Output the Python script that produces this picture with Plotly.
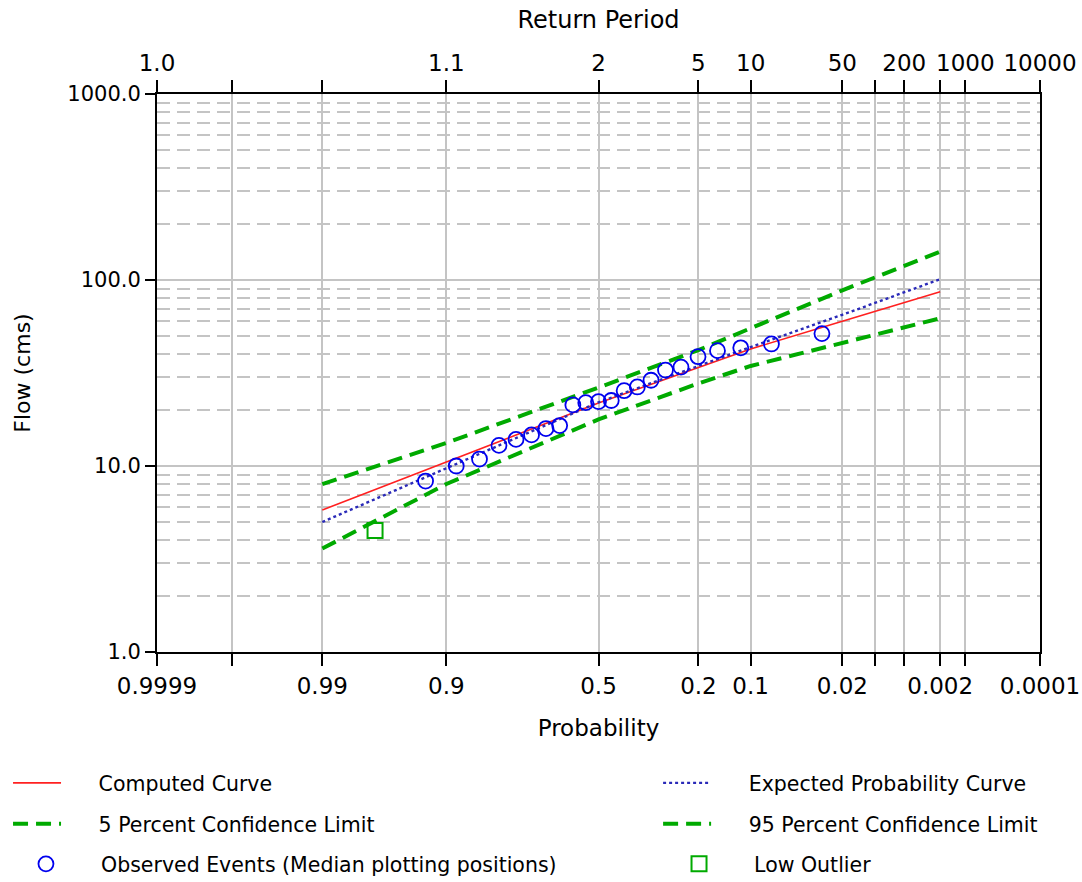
import plotly.graph_objects as go
from statistics import NormalDist

# ---------------- data ----------------
# Exceedance probabilities at which the frequency curves are read
curve_prob = [0.99, 0.9, 0.5, 0.2, 0.1, 0.02, 0.002]
computed_curve = [5.8, 10.5, 21.8, 33.8, 42.6, 60.0, 86.5]
expected_curve = [5.0, 9.7, 22.0, 34.5, 43.6, 65.0, 101.0]
conf_5pct = [8.0, 13.3, 26.4, 42.0, 55.0, 88.0, 142.0]
conf_95pct = [3.6, 8.0, 17.8, 27.8, 34.5, 45.8, 62.2]

# Observed events (median plotting positions, exceedance probability)
obs_prob = [0.0299, 0.0726, 0.1154, 0.1581, 0.2009, 0.2436, 0.2863, 0.3291,
            0.3718, 0.4145, 0.4573, 0.5000, 0.5427, 0.5855, 0.6282, 0.6709,
            0.7137, 0.7564, 0.7991, 0.8419, 0.8846, 0.9274]
obs_flow = [51.5, 45.3, 43.2, 41.7, 38.7, 34.0, 32.8, 28.9, 26.6, 25.4, 22.5,
            22.2, 21.9, 21.3, 16.5, 15.9, 14.7, 13.9, 12.9, 10.9, 10.0, 8.3]

outlier_prob = [0.9701]
outlier_flow = [4.5]

# Axis ticks
prob_ticks = [0.9999, 0.999, 0.99, 0.9, 0.5, 0.2, 0.1, 0.02, 0.01, 0.005, 0.002, 0.001, 0.0001]
prob_labels = ["0.9999", "", "0.99", "0.9", "0.5", "0.2", "0.1", "0.02", "", "", "0.002", "", "0.0001"]
return_labels = ["1.0", "", "", "1.1", "2", "5", "10", "50", "", "200", "", "1000", "10000"]
flow_ticks = [1, 10, 100, 1000]
flow_labels = ["1.0", "10.0", "100.0", "1000.0"]
flow_minor = [m * d for d in (1, 10, 100) for m in range(2, 10)]

# --------------- probability scale ---------------
nd = NormalDist()


def zscale(ps):
    return [nd.inv_cdf(1 - p) for p in ps]


xr = [nd.inv_cdf(0.0001), nd.inv_cdf(0.9999)]

FONT = "DejaVu Sans, Verdana, sans-serif"
GREEN = "#00aa00"
BLUE = "#0000ee"
GRID = "#c4c4c4"
PAD_L = "\u00a0" * 5
PAD_M = "\u00a0" * 4

fig = go.Figure()

fig.add_trace(go.Scatter(
    x=zscale(curve_prob), y=computed_curve, mode="lines", name=PAD_L + "Computed Curve",
    line=dict(color="#ff2020", width=1.6), legend="legend"))
fig.add_trace(go.Scatter(
    x=zscale(curve_prob), y=expected_curve, mode="lines", name=PAD_L + "Expected Probability Curve",
    line=dict(color="#2a2ab8", width=2.4, dash="dot"), legend="legend2"))
fig.add_trace(go.Scatter(
    x=zscale(curve_prob), y=conf_5pct, mode="lines", name=PAD_L + "5 Percent Confidence Limit",
    line=dict(color=GREEN, width=4, dash="15px,8px"), legend="legend3"))
fig.add_trace(go.Scatter(
    x=zscale(curve_prob), y=conf_95pct, mode="lines", name=PAD_L + "95 Percent Confidence Limit",
    line=dict(color=GREEN, width=4, dash="15px,8px"), legend="legend4"))
fig.add_trace(go.Scatter(
    x=zscale(obs_prob), y=obs_flow, mode="markers",
    name=PAD_M + "Observed Events (Median plotting positions)",
    marker=dict(symbol="circle-open", size=15, color=BLUE, line=dict(width=1.8, color=BLUE)),
    legend="legend5"))
fig.add_trace(go.Scatter(
    x=zscale(outlier_prob), y=outlier_flow, mode="markers", name=PAD_M + "Low Outlier",
    marker=dict(symbol="square-open", size=15, color=GREEN, line=dict(width=2, color=GREEN)),
    legend="legend6"))
# invisible companion trace so the top (return period) axis is drawn
fig.add_trace(go.Scatter(
    x=zscale(obs_prob), y=obs_flow, xaxis="x2", mode="markers",
    marker=dict(opacity=0), showlegend=False, hoverinfo="skip"))


def leg(x, y):
    return dict(orientation="v", xanchor="left", yanchor="middle", x=x, y=y,
                font=dict(family=FONT, size=20.5, color="black"),
                bgcolor="rgba(0,0,0,0)", itemwidth=48, borderwidth=0)


col1, col2 = -0.1687, 0.5675
col1m, col2m = -0.1586, 0.581
row1, row2, row3 = -0.2348, -0.3082, -0.380

fig.update_layout(
    width=1082, height=882,
    margin=dict(l=157, r=42, t=94, b=230, autoexpand=False),
    paper_bgcolor="white", plot_bgcolor="white",
    font=dict(family=FONT, size=21, color="black"),
    legend=leg(col1, row1),
    legend2=leg(col2, row1),
    legend3=leg(col1, row2),
    legend4=leg(col2, row2),
    legend5=leg(col1m, row3),
    legend6=leg(col2m, row3),
    xaxis=dict(
        range=xr, tickmode="array", tickvals=zscale(prob_ticks), ticktext=prob_labels,
        showgrid=True, gridcolor=GRID, gridwidth=2, zeroline=False,
        showline=True, linecolor="black", linewidth=2,
        ticks="outside", ticklen=12, tickwidth=2, tickcolor="black",
        tickfont=dict(size=23),
        title=dict(text="Probability", font=dict(size=23), standoff=22),
    ),
    xaxis2=dict(
        range=xr, overlaying="x", side="top", anchor="y", tickmode="array",
        tickvals=zscale(prob_ticks), ticktext=return_labels,
        showgrid=False, zeroline=False,
        showline=True, linecolor="black", linewidth=2,
        ticks="outside", ticklen=12, tickwidth=2, tickcolor="black",
        tickfont=dict(size=23),
        title=dict(text="Return Period", font=dict(size=24), standoff=14),
    ),
    yaxis=dict(
        type="log", range=[0, 3], tickmode="array", tickvals=flow_ticks, ticktext=flow_labels,
        showgrid=True, gridcolor=GRID, gridwidth=2, zeroline=False,
        showline=True, linecolor="black", linewidth=2, mirror=True,
        ticks="outside", ticklen=10, tickwidth=2, tickcolor="black",
        tickfont=dict(size=21),
        minor=dict(tickmode="array", tickvals=flow_minor, showgrid=True,
                   gridcolor=GRID, gridwidth=2, griddash="13px,7px", ticks=""),
        title=dict(text="Flow (cms)", font=dict(size=22), standoff=31),
    ),
    showlegend=True,
)

fig.write_html("out.html", config={"displayModeBar": False},
               post_script="document.body.style.margin='0';document.body.style.padding='0';")
